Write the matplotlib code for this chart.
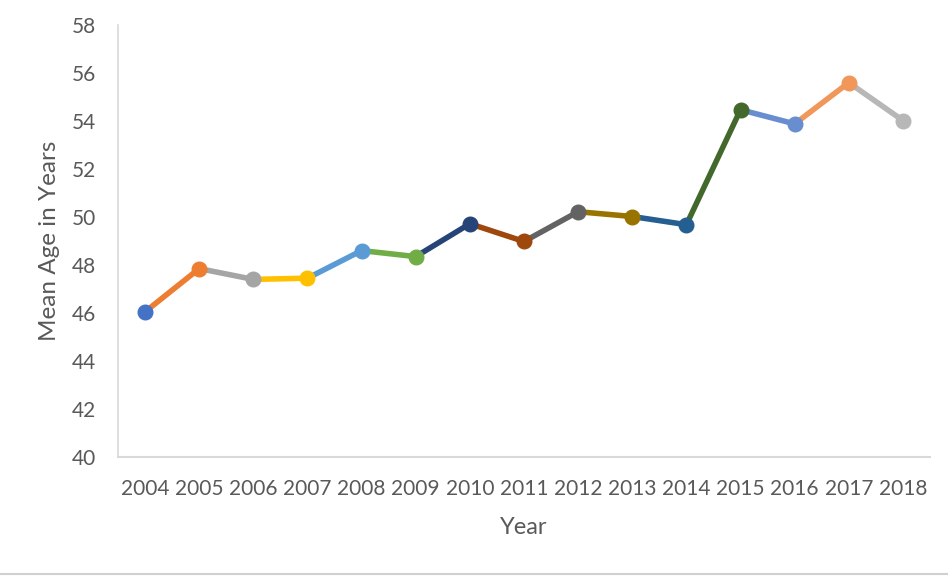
import matplotlib.pyplot as plt
from matplotlib.lines import Line2D

years = ["2004", "2005", "2006", "2007", "2008", "2009", "2010", "2011",
         "2012", "2013", "2014", "2015", "2016", "2017", "2018"]
mean_age = [46.05, 47.85, 47.4, 47.45, 48.6, 48.35, 49.72, 48.98,
            50.22, 50.02, 49.68, 54.47, 53.88, 55.6, 54.02]
point_colors = ["#4472C4", "#ED7D31", "#A5A5A5", "#FFC000", "#5B9BD5",
                "#70AD47", "#264478", "#9E480E", "#636363", "#997300",
                "#255E91", "#43682B", "#698ED0", "#F1975A", "#B7B7B7"]
y_ticks = [40, 42, 44, 46, 48, 50, 52, 54, 56, 58]

plt.rcParams['font.family'] = ['Lato', 'DejaVu Sans']
text_col = '#595959'

fig = plt.figure(figsize=(9.48, 5.76), dpi=100)
ax = fig.add_axes([118 / 948, 1 - 457 / 576, (930 - 118) / 948, (457 - 25) / 576])

x = list(range(len(years)))
# each segment takes the colour of the point it ends at
for i in range(1, len(x)):
    ax.plot(x[i - 1:i + 1], mean_age[i - 1:i + 1], color=point_colors[i],
            lw=4, solid_capstyle='round', zorder=2)
for i in range(len(x)):
    ax.plot(x[i], mean_age[i], 'o', color=point_colors[i], ms=10.5,
            mec=point_colors[i], zorder=3)

ax.set_xlim(-0.5, len(x) - 0.5)
ax.set_ylim(40, 58)
ax.set_yticks(y_ticks)
ax.set_xticks(x)
ax.set_xticklabels(years)
ax.tick_params(axis='both', length=0, labelsize=15, colors=text_col)
ax.tick_params(axis='x', pad=16)
ax.tick_params(axis='y', pad=16)

for s in ['top', 'right']:
    ax.spines[s].set_visible(False)
ax.spines['left'].set_color('#D9D9D9')
ax.spines['bottom'].set_color('#D9D9D9')
ax.spines['left'].set_linewidth(1.2)
ax.spines['bottom'].set_linewidth(1.5)

ax.set_xlabel("Year", fontsize=17, color=text_col, labelpad=13)
ax.set_ylabel("Mean Age in Years", fontsize=17.5, color=text_col, labelpad=8)

fig.add_artist(Line2D([0, 1], [1 - 574 / 576] * 2, color='#D0D0D0', lw=1.5,
                      transform=fig.transFigure))

fig.savefig("out.png", dpi=100)
